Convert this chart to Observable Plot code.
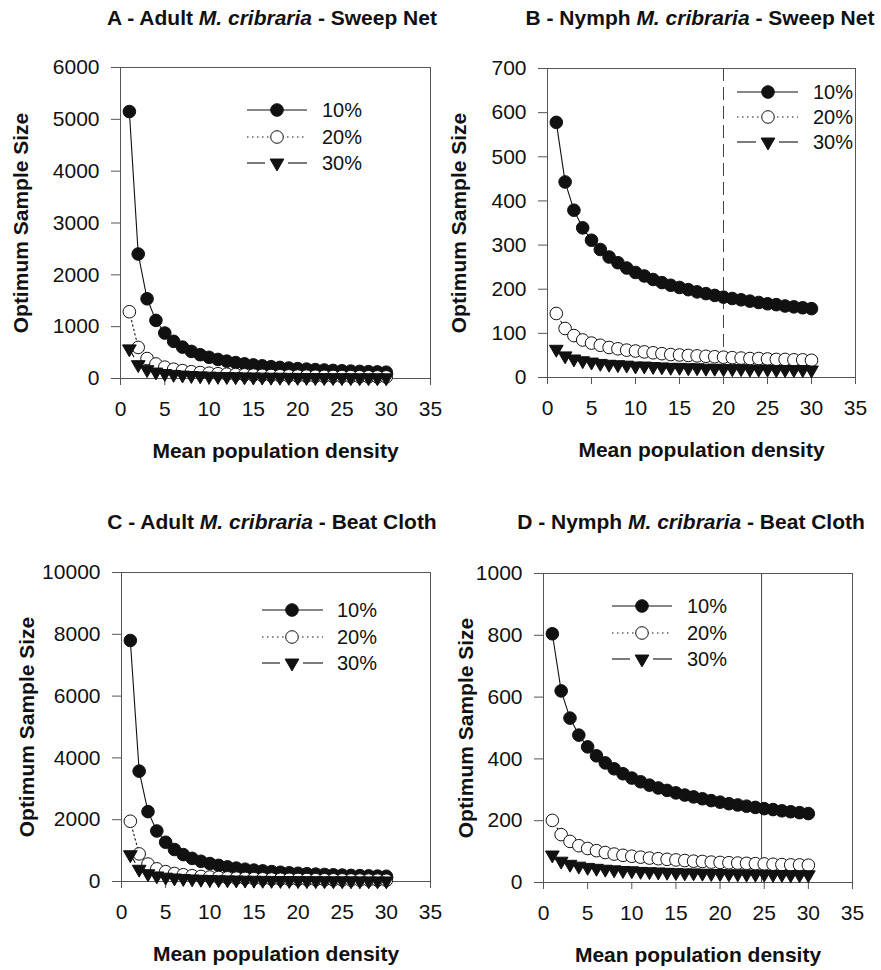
<!DOCTYPE html>
<html><head><meta charset="utf-8">
<script src="https://cdn.jsdelivr.net/npm/d3@7"></script>
<script src="https://cdn.jsdelivr.net/npm/@observablehq/plot@0.6"></script>
<style>
body{margin:0;background:#fff;}
#wrap{position:relative;width:881px;height:970px;font-family:"Liberation Sans",Arial,sans-serif;overflow:hidden;}
.panel{position:absolute;}
.title{position:absolute;font-weight:bold;font-size:21px;color:#111;white-space:nowrap;transform:translate(-50%,-50%);}
</style></head><body><div id="wrap"></div>
<script>
// ---- data ----
const density = [1,2,3,4,5,6,7,8,9,10,11,12,13,14,15,16,17,18,19,20,21,22,23,24,25,26,27,28,29,30];
const seriesNames = ["10%", "20%", "30%"];
const xTicks = [0,5,10,15,20,25,30,35];

// A - Adult, Sweep Net
const adultSweep10 = [5150,2402,1538,1121,877,717,606,523,459,409,368,335,307,283,262,244,228,214,202,191,181,172,164,156,149,143,137,132,127,122];
const adultSweep20 = [1288,600,385,280,219,179,152,131,115,102,92,84,77,71,66,61,57,54,51,48,45,43,41,39,37,36,34,33,32,31];
const adultSweep30 = [572,267,171,125,97,80,67,58,51,45,41,37,34,31,29,27,25,24,22,21,20,19,18,17,17,16,15,15,14,14];
const adultSweepTicks = [0,1000,2000,3000,4000,5000,6000];

// B - Nymph, Sweep Net
const nymphSweep10 = [578,443,379,339,311,290,273,260,248,238,230,222,215,209,204,199,194,190,186,182,179,176,173,170,167,165,162,160,158,156];
const nymphSweep20 = [145,111,95,85,78,73,68,65,62,60,58,56,54,52,51,50,49,48,47,46,45,44,43,43,42,41,41,40,40,39];
const nymphSweep30 = [64,49,42,38,35,32,30,29,28,26,26,25,24,23,23,22,22,21,21,20,20,20,19,19,19,18,18,18,18,17];
const nymphSweepTicks = [0,100,200,300,400,500,600,700];
const nymphSweepRef = [20];

// C - Adult, Beat Cloth
const adultBeat10 = [7800,3572,2261,1635,1271,1035,870,749,655,582,523,474,433,398,369,343,320,300,282,267,252,239,228,217,207,198,190,182,175,169];
const adultBeat20 = [1950,893,565,409,318,259,218,187,164,146,131,119,108,100,92,86,80,75,71,67,63,60,57,54,52,50,48,46,44,42];
const adultBeat30 = [867,397,251,182,141,115,97,83,73,65,58,53,48,44,41,38,36,33,31,30,28,27,25,24,23,22,21,20,19,19];
const adultBeatTicks = [0,2000,4000,6000,8000,10000];

// D - Nymph, Beat Cloth
const nymphBeat10 = [805,620,532,477,439,410,387,368,352,338,326,315,306,298,290,283,277,271,265,260,255,251,247,243,239,236,232,229,226,223];
const nymphBeat20 = [201,155,133,119,110,103,97,92,88,85,82,79,77,75,73,71,69,68,66,65,64,63,62,61,60,59,58,57,57,56];
const nymphBeat30 = [89,69,59,53,49,46,43,41,39,38,36,35,34,33,32,31,31,30,29,29,28,28,27,27,27,26,26,25,25,25];
const nymphBeatTicks = [0,200,400,600,800,1000];
const nymphBeatRef = [24.7];

// ---- symbols / styles ----
const sqrt3 = Math.sqrt(3);
const triangleDown = {
  draw(context, size) {
    const y = -Math.sqrt(size / (sqrt3 * 3));
    context.moveTo(0, -y * 2);
    context.lineTo(-sqrt3 * y, y);
    context.lineTo(sqrt3 * y, y);
    context.closePath();
  }
};
const FONT = "Liberation Sans, Arial, sans-serif";
const plain = d => String(d);
const styles = [
  {dash: null, symbol: "circle", r: 6.3, fill: "#111"},
  {dash: "1.5,3", symbol: "circle", r: 6.3, fill: "white"},
  {dash: "9,5", symbol: triangleDown, r: 5.1, fill: "#111"}
];

const panels = [
  {title: ["A - Adult ", "M. cribraria", " - Sweep Net"], tx: 272, ty: 18,
   left: 0, top: 0, width: 440, height: 485, mL: 120, mR: 10, mT: 67, mB: 107,
   series: [adultSweep10, adultSweep20, adultSweep30], ymax: 6000, yTicks: adultSweepTicks,
   ylabDx: -99, ref: null,
   legend: {x0: 127, mx: 157, x1: 187, tx: 202, rows: [43, 70, 96]}},
  {title: ["B - Nymph ", "M. cribraria", " - Sweep Net"], tx: 700, ty: 18,
   left: 440, top: 0, width: 441, height: 485, mL: 107, mR: 26, mT: 68, mB: 108,
   series: [nymphSweep10, nymphSweep20, nymphSweep30], ymax: 700, yTicks: nymphSweepTicks,
   ylabDx: -88, ref: nymphSweepRef, refDash: "13,6",
   legend: {x0: 190, mx: 221, x1: 251, tx: 266, rows: [24, 49, 74]}},
  {title: ["C - Adult ", "M. cribraria", " - Beat Cloth"], tx: 272, ty: 522,
   left: 0, top: 485, width: 440, height: 485, mL: 121, mR: 10, mT: 87, mB: 89,
   series: [adultBeat10, adultBeat20, adultBeat30], ymax: 10000, yTicks: adultBeatTicks,
   ylabDx: -94, ref: null,
   legend: {x0: 141, mx: 171, x1: 202, tx: 216, rows: [38, 65, 91]}},
  {title: ["D - Nymph ", "M. cribraria", " - Beat Cloth"], tx: 691, ty: 522,
   left: 440, top: 485, width: 441, height: 485, mL: 103, mR: 29, mT: 88, mB: 88,
   series: [nymphBeat10, nymphBeat20, nymphBeat30], ymax: 1000, yTicks: nymphBeatTicks,
   ylabDx: -77, ref: nymphBeatRef, refDash: null,
   legend: {x0: 69, mx: 99, x1: 129, tx: 144, rows: [33, 60, 86]}}
];

const wrap = document.getElementById("wrap");

for (const p of panels) {
  const marks = [];
  if (p.ref) marks.push(Plot.ruleX(p.ref, {stroke: "#444", strokeWidth: 1, strokeDasharray: p.refDash}));
  marks.push(Plot.frame({stroke: "#555", strokeWidth: 1}));
  marks.push(Plot.axisX({ticks: xTicks, tickFormat: plain, tickSize: 7, tickPadding: 16, label: null, fontSize: 21, stroke: "#555", fill: "#111"}));
  marks.push(Plot.axisY({ticks: p.yTicks, tickFormat: plain, tickSize: 9, tickPadding: 12, label: null, fontSize: 21, stroke: "#555", fill: "#111"}));
  p.series.forEach((vals, i) => {
    const data = density.map((d, j) => ({x: d, y: vals[j]}));
    const s = styles[i];
    marks.push(Plot.line(data, {x: "x", y: "y", stroke: "#111", strokeWidth: 1.1, strokeDasharray: s.dash}));
    marks.push(Plot.dot(data, {x: "x", y: "y", r: s.r, symbol: s.symbol, fill: s.fill, stroke: "#111", strokeWidth: 1}));
  });
  marks.push(Plot.text(["Mean population density"], {frameAnchor: "bottom", dy: 73, textAnchor: "middle", lineAnchor: "middle", fontSize: 21, fontWeight: "bold", fill: "#111"}));
  marks.push(Plot.text(["Optimum Sample Size"], {frameAnchor: "left", rotate: -90, dx: p.ylabDx, textAnchor: "middle", lineAnchor: "middle", fontSize: 21, fontWeight: "bold", fill: "#111"}));

  const chart = Plot.plot({
    width: p.width, height: p.height,
    marginLeft: p.mL, marginRight: p.mR, marginTop: p.mT, marginBottom: p.mB,
    x: {domain: [0, 35], label: null},
    y: {domain: [0, p.ymax], label: null},
    style: {fontFamily: FONT, color: "#111", background: "transparent", overflow: "visible"},
    marks
  });
  chart.classList.add("panel");
  chart.style.left = p.left + "px";
  chart.style.top = p.top + "px";
  wrap.appendChild(chart);

  // legend (inside frame, top area)
  const svg = d3.select(chart);
  const lg = svg.append("g").attr("transform", `translate(${p.mL},${p.mT})`);
  const L = p.legend;
  seriesNames.forEach((name, i) => {
    const y = L.rows[i];
    const s = styles[i];
    if (i === 0) {
      lg.append("line").attr("x1", L.x0).attr("x2", L.x1).attr("y1", y).attr("y2", y).attr("stroke", "#111").attr("stroke-width", 1.1);
    } else if (i === 1) {
      lg.append("line").attr("x1", L.x0).attr("x2", L.x1).attr("y1", y).attr("y2", y).attr("stroke", "#111").attr("stroke-width", 1.1).attr("stroke-dasharray", "1.5,3.5");
    } else {
      lg.append("line").attr("x1", L.x0).attr("x2", L.mx - 12).attr("y1", y).attr("y2", y).attr("stroke", "#111").attr("stroke-width", 1.1);
      lg.append("line").attr("x1", L.mx + 11).attr("x2", L.x1).attr("y1", y).attr("y2", y).attr("stroke", "#111").attr("stroke-width", 1.1);
    }
    const sym = typeof s.symbol === "string" ? d3.symbolCircle : s.symbol;
    lg.append("path").attr("d", d3.symbol(sym, Math.PI * s.r * s.r)())
      .attr("transform", `translate(${L.mx},${y})`)
      .attr("fill", s.fill).attr("stroke", "#111").attr("stroke-width", 1);
    lg.append("text").attr("x", L.tx).attr("y", y).attr("dy", "0.35em")
      .attr("text-anchor", "start")
      .attr("font-size", 20).attr("fill", "#111").attr("font-family", FONT).text(name);
  });

  const t = document.createElement("div");
  t.className = "title";
  t.style.left = p.tx + "px";
  t.style.top = p.ty + "px";
  t.append(p.title[0]);
  const em = document.createElement("i");
  em.textContent = p.title[1];
  t.append(em);
  t.append(p.title[2]);
  wrap.appendChild(t);
}
</script>
</body></html>
